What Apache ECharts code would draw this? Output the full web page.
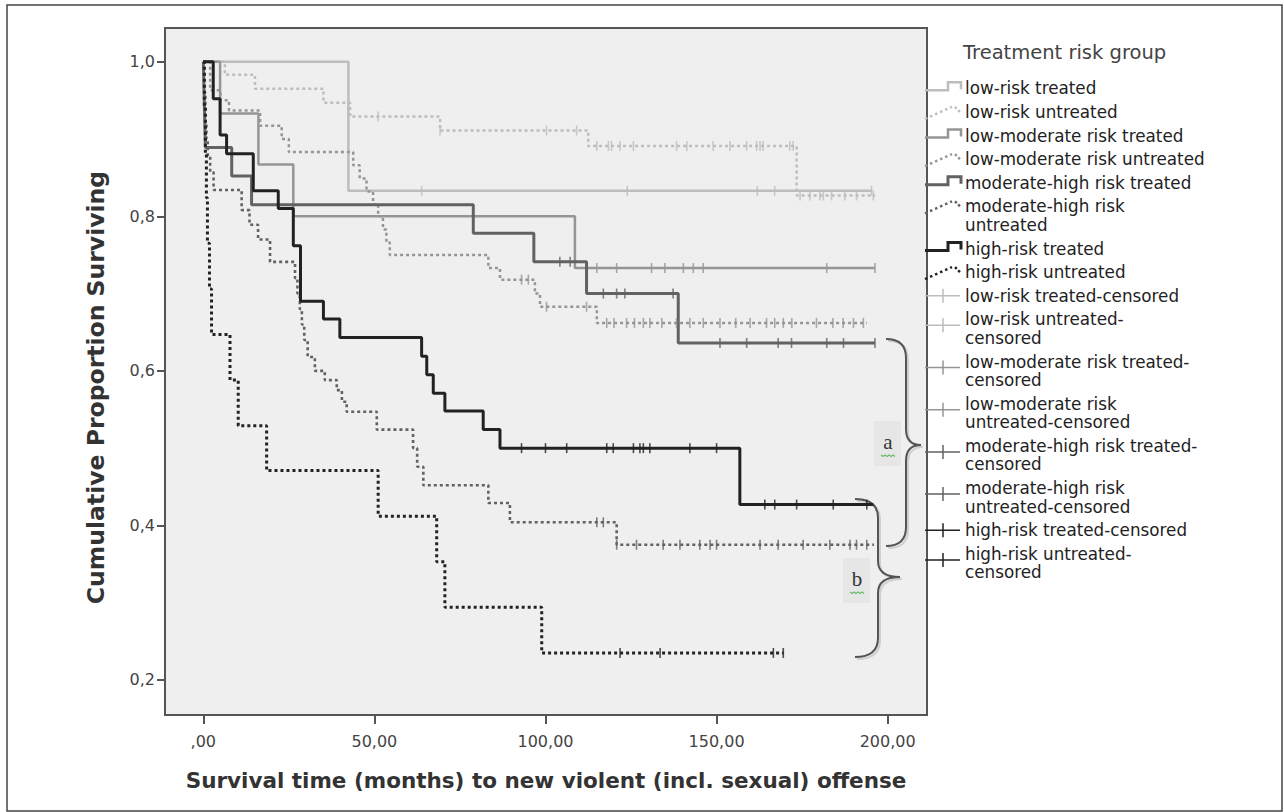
<!DOCTYPE html>
<html>
<head>
<meta charset="utf-8">
<title>Survival curves</title>
<script src="https://cdn.jsdelivr.net/npm/echarts@6/dist/echarts.min.js"></script>
<style>
    html, body { margin: 0; padding: 0; background: #fff; }
    #main { width: 1284px; height: 812px; }
</style>
</head>
<body>
<div id="main"></div>
<script>
// 坐标轴
var xMin = -11.2, xMax = 211.5;
var yMin = 0.1547, yMax = 1.0436;
var xTickValues = [0, 50, 100, 150, 200];
var yTickValues = [0.2, 0.4, 0.6, 0.8, 1.0];
var xTitle = 'Survival time (months) to new violent (incl. sexual) offense';
var yTitle = 'Cumulative Proportion Surviving';

// 低风险 治疗
var lowTreatedTime = [0, 42.4, 195.3];
var lowTreatedSurv = [1, 0.833, 0.833];
var lowTreatedCensor = [63.8, 123.9, 161.9, 167, 195.3];

// 低风险 未治疗
var lowUntreatedTime = [0, 6.3, 15.1, 35.1, 42.9, 69.2, 112.5, 173.4, 196.3];
var lowUntreatedSurv = [1, 0.983, 0.965, 0.947, 0.929, 0.911, 0.891, 0.827, 0.827];
var lowUntreatedCensor = [51.1, 69.2, 100.3, 109.1, 115, 118.4, 119.3, 121.8, 125.7, 138.3, 141.3, 149, 153.9, 158.8, 161.7, 162.7, 163.6, 171.4, 172.4, 174.4, 177.3, 180.2, 181.2, 183.6, 187.5, 190.9, 195.8];

// 低-中风险 治疗
var lowModTreatedTime = [0, 4.9, 16.1, 26.3, 108.6, 196.3];
var lowModTreatedSurv = [1, 0.933, 0.867, 0.8, 0.733, 0.733];
var lowModTreatedCensor = [115, 120.8, 131, 134.9, 140.3, 143.2, 146.1, 182.2, 196.3];

// 低-中风险 未治疗
var lowModUntreatedTime = [0, 2, 5, 7.5, 16.6, 22.9, 25, 43.8, 45.7, 47.7, 49.6, 51.1, 52.5, 53.5, 54.5, 83.3, 86.7, 96.9, 98.4, 115, 193.9];
var lowModUntreatedSurv = [1, 0.963, 0.95, 0.937, 0.917, 0.9, 0.883, 0.866, 0.849, 0.832, 0.815, 0.8, 0.783, 0.766, 0.75, 0.733, 0.718, 0.7, 0.683, 0.662, 0.662];
var lowModUntreatedCensor = [93, 95, 100.3, 112, 117.9, 120, 123.7, 126, 128.6, 130.5, 134, 138.3, 142.2, 146.1, 151, 155.6, 159.8, 164.6, 167, 169.5, 172, 179.2, 184, 187, 190, 192.9];

// 中-高风险 治疗
var modHighTreatedTime = [0, 0.2, 0.4, 0.6, 8.3, 14.1, 78.9, 96.6, 112, 138.8, 196.3];
var modHighTreatedSurv = [1, 0.963, 0.926, 0.889, 0.852, 0.815, 0.778, 0.741, 0.7, 0.636, 0.636];
var modHighTreatedCensor = [104.2, 107.2, 116.9, 120.8, 123.2, 137.3, 151, 158.8, 168, 171.9, 182.2, 187.1, 196.3];

// 中-高风险 未治疗
var modHighUntreatedTime = [0, 0.3, 0.6, 0.9, 1.3, 2.0, 3.0, 11.2, 13.5, 16, 19.5, 26.8, 27.5, 28.2, 28.8, 29.5, 30.5, 32.6, 35.5, 39, 40.5, 41.9, 50.7, 61.3, 62.5, 64.3, 83.3, 89.6, 120.8, 196];
var modHighUntreatedSurv = [1, 0.96, 0.92, 0.9, 0.878, 0.857, 0.834, 0.808, 0.789, 0.77, 0.741, 0.72, 0.7, 0.68, 0.66, 0.64, 0.618, 0.6, 0.588, 0.575, 0.56, 0.547, 0.524, 0.5, 0.476, 0.452, 0.429, 0.404, 0.375, 0.375];
var modHighUntreatedCensor = [115, 116.9, 120.8, 126.6, 134.4, 139.3, 145.1, 148.1, 150, 162.7, 168, 175.3, 183.1, 189, 190.9, 193.9];

// 高风险 治疗
var highTreatedTime = [0, 2.9, 4.9, 6.8, 14.6, 21.9, 26.3, 28.4, 35.1, 39.9, 63.8, 65.3, 67.2, 70.6, 81.8, 86.7, 156.8, 195.8];
var highTreatedSurv = [1, 0.952, 0.905, 0.881, 0.833, 0.81, 0.762, 0.69, 0.667, 0.643, 0.619, 0.595, 0.571, 0.548, 0.524, 0.5, 0.427, 0.427];
var highTreatedCensor = [93, 100, 106.2, 117.9, 119.8, 125.7, 127.6, 128.6, 130.5, 142.2, 150, 164.1, 167, 173.4, 184.1, 193.9];

// 高风险 未治疗
var highUntreatedTime = [0, 0.3, 0.6, 0.9, 1.2, 1.8, 2.4, 7.8, 10.2, 18.5, 51.1, 68.2, 70.6, 98.9, 169.5];
var highUntreatedSurv = [1, 0.941, 0.882, 0.824, 0.765, 0.706, 0.647, 0.588, 0.529, 0.471, 0.412, 0.353, 0.294, 0.235, 0.235];
var highUntreatedCensor = [121.8, 133.5, 166.6, 169.5];

// 图例
var legendTitle = 'Treatment risk group';
var legendLabels = [
    'low-risk treated',
    'low-risk untreated',
    'low-moderate risk treated',
    'low-moderate risk untreated',
    'moderate-high risk treated',
    'moderate-high risk\nuntreated',
    'high-risk treated',
    'high-risk untreated',
    'low-risk treated-censored',
    'low-risk untreated-\ncensored',
    'low-moderate risk treated-\ncensored',
    'low-moderate risk\nuntreated-censored',
    'moderate-high risk treated-\ncensored',
    'moderate-high risk\nuntreated-censored',
    'high-risk treated-censored',
    'high-risk untreated-\ncensored'
];

var 字体 = '"DejaVu Sans", Verdana, sans-serif';

var 分组 = [
    { time: lowTreatedTime, surv: lowTreatedSurv, censor: lowTreatedCensor, color: '#bdbdbd', dotted: false, width: 2.5 },
    { time: lowUntreatedTime, surv: lowUntreatedSurv, censor: lowUntreatedCensor, color: '#bdbdbd', dotted: true, width: 2.5 },
    { time: lowModTreatedTime, surv: lowModTreatedSurv, censor: lowModTreatedCensor, color: '#959595', dotted: false, width: 2.5 },
    { time: lowModUntreatedTime, surv: lowModUntreatedSurv, censor: lowModUntreatedCensor, color: '#959595', dotted: true, width: 2.5 },
    { time: modHighTreatedTime, surv: modHighTreatedSurv, censor: modHighTreatedCensor, color: '#626262', dotted: false, width: 3 },
    { time: modHighUntreatedTime, surv: modHighUntreatedSurv, censor: modHighUntreatedCensor, color: '#626262', dotted: true, width: 2.6 },
    { time: highTreatedTime, surv: highTreatedSurv, censor: highTreatedCensor, color: '#222222', dotted: false, width: 3 },
    { time: highUntreatedTime, surv: highUntreatedSurv, censor: highUntreatedCensor, color: '#222222', dotted: true, width: 3 }
];

function 阶梯数据(times, surv) {
    var arr = [];
    for (var i = 0; i < times.length; i++) {
        arr.push([times[i], surv[i]]);
    }
    return arr;
}

//截尾点落在曲线上
function 截尾数据(times, surv, censor) {
    var arr = [];
    for (var j = 0; j < censor.length; j++) {
        var s = surv[0];
        for (var i = 0; i < times.length; i++) {
            if (times[i] <= censor[j]) s = surv[i];
        }
        arr.push([censor[j], s]);
    }
    return arr;
}

function 图例元素() {
    var els = [];
    els.push({
        type: 'text', x: 963, y: 52,
        style: { text: legendTitle, fill: '#444', font: '19.5px ' + 字体, verticalAlign: 'middle' }
    });
    var y = 88.3;
    for (var k = 0; k < legendLabels.length; k++) {
        var lines = legendLabels[k].split('\n').length;
        var g = 分组[k % 8];
        if (k < 8 && !g.dotted) {
            els.push({
                type: 'polyline',
                shape: { points: [[925, y + 2], [948, y + 2], [948, y - 6], [961, y - 6], [961, y + 1]] },
                style: { stroke: g.color, lineWidth: g.width, fill: null }
            });
        }
        else if (k < 8) {
            els.push({
                type: 'polyline',
                shape: { points: [[925, y + 7], [952, y - 5]] },
                style: { stroke: g.color, lineWidth: 2.5, lineDash: [2.5, 3], fill: null }
            });
            els.push({
                type: 'polyline',
                shape: { points: [[955, y - 5], [961, y + 1]] },
                style: { stroke: g.color, lineWidth: 2.5, lineDash: [2.5, 2], fill: null }
            });
        }
        else {
            var iy = lines > 1 ? y + 6 : y;
            els.push({
                type: 'line',
                shape: { x1: 925, y1: iy, x2: 960, y2: iy },
                style: { stroke: g.color, lineWidth: 1.5 }
            });
            els.push({
                type: 'line',
                shape: { x1: 943, y1: iy - 7, x2: 943, y2: iy + 7 },
                style: { stroke: g.color, lineWidth: 1.5 }
            });
        }
        els.push({
            type: 'text', x: 965, y: y - 9.3,
            style: { text: legendLabels[k], fill: '#222', font: '16.8px ' + 字体, verticalAlign: 'top', lineHeight: 18.6 }
        });
        y += 23.6 + 18.6 * (lines - 1);
    }
    return els;
}

function 大括号(x0, y0, xm, tipX, tipY, y1, color, dx) {
    var parts = [];
    var s = { stroke: color, lineWidth: 2, fill: null };
    parts.push({ type: 'bezierCurve', shape: { x1: x0 + dx, y1: y0 + dx, cpx1: xm + dx, cpy1: y0 + dx, x2: xm + dx, y2: y0 + 19 + dx }, style: s });
    parts.push({ type: 'line', shape: { x1: xm + dx, y1: y0 + 19 + dx, x2: xm + dx, y2: tipY - 16 + dx }, style: s });
    parts.push({ type: 'bezierCurve', shape: { x1: xm + dx, y1: tipY - 16 + dx, cpx1: xm + dx, cpy1: tipY + dx, x2: tipX + dx, y2: tipY + dx }, style: s });
    parts.push({ type: 'bezierCurve', shape: { x1: tipX + dx, y1: tipY + dx, cpx1: xm + dx, cpy1: tipY + dx, x2: xm + dx, y2: tipY + 16 + dx }, style: s });
    parts.push({ type: 'line', shape: { x1: xm + dx, y1: tipY + 16 + dx, x2: xm + dx, y2: y1 - 19 + dx }, style: s });
    parts.push({ type: 'bezierCurve', shape: { x1: xm + dx, y1: y1 - 19 + dx, cpx1: xm + dx, cpy1: y1 + dx, x2: x0 + dx, y2: y1 + dx }, style: s });
    return parts;
}

function 字母标注(ch, cx, cy) {
    var els = [];
    els.push({ type: 'rect', shape: { x: cx - 14, y: cy - 21, width: 27, height: 45 }, style: { fill: 'rgba(0,0,0,0.035)' } });
    els.push({
        type: 'text', x: cx, y: cy,
        style: { text: ch, fill: '#333', font: '21px "Liberation Serif", "DejaVu Serif", serif', align: 'center', verticalAlign: 'middle' }
    });
    var pts = [];
    for (var i = 0; i <= 7; i++) pts.push([cx - 7 + i * 2, cy + 13 + (i % 2 ? 1.5 : 0)]);
    els.push({ type: 'polyline', shape: { points: pts }, style: { stroke: '#6dbb6d', lineWidth: 1.2, fill: null } });
    return els;
}

var myChart = echarts.init(document.getElementById('main'), null, { renderer: 'svg' });

var series = [];
for (var n = 0; n < 分组.length; n++) {
    var g = 分组[n];
    series.push({
        type: 'line',
        step: 'end',
        data: 阶梯数据(g.time, g.surv),
        symbol: 'none',
        silent: true,
        z: 2 + n,
        lineStyle: {
            color: g.color,
            width: g.width,
            type: g.dotted ? [3, 3] : 'solid'
        }
    });
}
for (var m = 0; m < 分组.length; m++) {
    series.push({
        type: 'scatter',
        data: 截尾数据(分组[m].time, 分组[m].surv, 分组[m].censor),
        symbol: 'rect',
        symbolSize: [1.6, 10],
        silent: true,
        z: 12,
        itemStyle: { color: 分组[m].color }
    });
}

var graphics = [
    { type: 'rect', shape: { x: 7, y: 5, width: 1275, height: 806 }, style: { fill: null, stroke: '#444', lineWidth: 1.5 } }
];
graphics = graphics.concat(图例元素());
graphics = graphics.concat(大括号(886, 339, 906, 921, 445, 546, '#cfcfcf', 2));
graphics = graphics.concat(大括号(886, 339, 906, 921, 445, 546, '#555', 0));
graphics = graphics.concat(大括号(855, 499, 878, 900, 577, 657, '#cfcfcf', 2));
graphics = graphics.concat(大括号(855, 499, 878, 900, 577, 657, '#555', 0));
graphics = graphics.concat(字母标注('a', 888, 442));
graphics = graphics.concat(字母标注('b', 857, 579));

// 指定图表的配置项和数据
var option = {
    animation: false,
    backgroundColor: '#fff',
    grid: {
        left: 165, top: 28, right: 357, bottom: 97,
        show: true,
        backgroundColor: '#efefef',
        borderColor: '#555',
        borderWidth: 2
    },
    xAxis: {
        type: 'value',
        min: xMin,
        max: xMax,
        name: xTitle,
        nameLocation: 'middle',
        nameGap: 54,
        nameTextStyle: { color: '#333', fontSize: 21.5, fontWeight: 'bold', fontFamily: 字体 },
        axisLine: { show: true, onZero: false, lineStyle: { color: '#555', width: 2 } },
        axisTick: { show: true, length: 9, customValues: xTickValues, lineStyle: { color: '#555', width: 2 } },
        axisLabel: {
            customValues: xTickValues,
            color: '#444', fontSize: 16, fontFamily: 字体, margin: 18,
            formatter: function (v) {
                return v === 0 ? ',00' : v.toFixed(2).replace('.', ',');
            }
        },
        splitLine: { show: false }
    },
    yAxis: {
        type: 'value',
        min: yMin,
        max: yMax,
        name: yTitle,
        nameLocation: 'middle',
        nameGap: 57,
        nameTextStyle: { color: '#333', fontSize: 23.5, fontWeight: 'bold', fontFamily: 字体, padding: [0, 32, 0, 0] },
        axisLine: { show: true, onZero: false, lineStyle: { color: '#555', width: 2 } },
        axisTick: { show: true, length: 8, customValues: yTickValues, lineStyle: { color: '#555', width: 2 } },
        axisLabel: {
            customValues: yTickValues,
            color: '#444', fontSize: 16, fontFamily: 字体, margin: 10,
            formatter: function (v) {
                return v.toFixed(1).replace('.', ',');
            }
        },
        splitLine: { show: false }
    },
    graphic: graphics,
    series: series
};

// 使用刚指定的配置项和数据显示图表。
myChart.setOption(option);
</script>
</body>
</html>
